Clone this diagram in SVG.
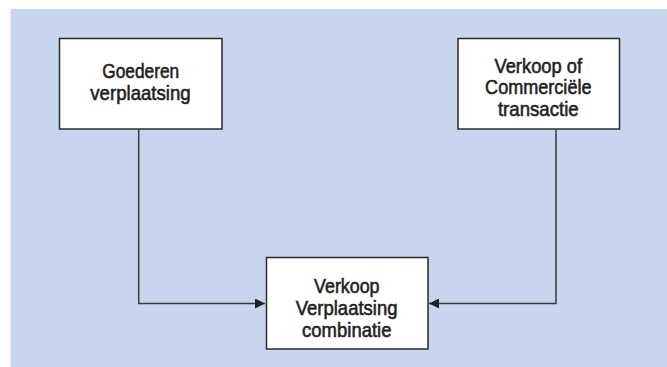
<svg xmlns="http://www.w3.org/2000/svg" width="667" height="367" viewBox="0 0 667 367">
<style>
.bg{fill:#c7d5ee}
.box{fill:#ffffff;stroke:#2b2b2b;stroke-width:1.5}
.lbl{font-family:"Liberation Sans",Arial,sans-serif;font-size:21px;fill:#231f20;stroke:#231f20;stroke-width:0.6;text-anchor:middle}
.conn{fill:none;stroke:#3a3a3a;stroke-width:1.5}
</style>
<defs>
<marker id="arr" viewBox="0 0 10 10" refX="10" refY="5" markerWidth="10" markerHeight="10" markerUnits="userSpaceOnUse" orient="auto">
<path d="M0,0 L10,5 L0,10 Z" fill="#231f20"/>
</marker>
</defs>
<rect class="bg" x="10.5" y="9" width="656.5" height="358"/>
<g id="connectors">
<path class="conn" d="M138.7,129.5 V303.5 H265" marker-end="url(#arr)"/>
<path class="conn" d="M556,129.5 V303.5 H429" marker-end="url(#arr)"/>
</g>
<g id="goederen">
<rect class="box" x="59.5" y="38.5" width="162.5" height="90.5"/>
<text class="lbl" x="140.7" y="77.7" textLength="77" lengthAdjust="spacingAndGlyphs">Goederen</text>
<text class="lbl" x="140.5" y="99.8" textLength="100.4" lengthAdjust="spacingAndGlyphs">verplaatsing</text>
</g>
<g id="verkoop">
<rect class="box" x="458" y="38.5" width="161.5" height="90.5"/>
<text class="lbl" x="538.3" y="72.7" textLength="87.7" lengthAdjust="spacingAndGlyphs">Verkoop of</text>
<text class="lbl" x="538.3" y="94.4" textLength="106.4" lengthAdjust="spacingAndGlyphs">Commerciële</text>
<text class="lbl" x="538.3" y="116.1" textLength="80.8" lengthAdjust="spacingAndGlyphs">transactie</text>
</g>
<g id="combinatie">
<rect class="box" x="266.5" y="257.5" width="161.5" height="91.5"/>
<text class="lbl" x="346.8" y="293.3" textLength="65.5" lengthAdjust="spacingAndGlyphs">Verkoop</text>
<text class="lbl" x="346.6" y="315" textLength="101.7" lengthAdjust="spacingAndGlyphs">Verplaatsing</text>
<text class="lbl" x="346.8" y="336.7" textLength="89.4" lengthAdjust="spacingAndGlyphs">combinatie</text>
</g>
</svg>
